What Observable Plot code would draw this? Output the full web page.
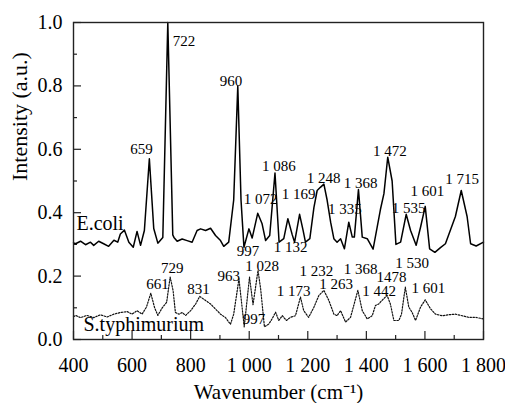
<!DOCTYPE html>
<html><head><meta charset="utf-8">
<script src="https://cdn.jsdelivr.net/npm/d3@7"></script>
<script src="https://cdn.jsdelivr.net/npm/@observablehq/plot@0.6"></script>
<style>
body{margin:0;background:#fff;}
</style>
</head><body><div id="chart"></div>
<script>
// E.coli spectrum (solid)
const ecoliWavenumber = [400,407,424,441,458,469,486,503,520,538,551,560,574,589,604,617,629,642,659,674,688,705,722,739,743,754,771,788,805,822,834,851,868,885,902,913,930,947,961,972,982,999,1010,1029,1044,1056,1070,1088,1102,1118,1132,1147,1155,1172,1184,1192,1207,1221,1232,1243,1255,1266,1278,1289,1300,1312,1325,1340,1352,1359,1373,1386,1403,1423,1448,1460,1473,1488,1501,1517,1536,1551,1570,1585,1601,1616,1634,1653,1670,1704,1724,1744,1756,1775,1800];
const ecoliIntensity = [0.305,0.302,0.310,0.299,0.307,0.297,0.310,0.302,0.294,0.313,0.307,0.333,0.345,0.307,0.291,0.341,0.297,0.344,0.570,0.350,0.304,0.322,1.0,0.33,0.322,0.310,0.317,0.312,0.307,0.344,0.349,0.344,0.351,0.328,0.312,0.294,0.307,0.440,0.800,0.440,0.291,0.349,0.320,0.398,0.365,0.312,0.328,0.525,0.307,0.318,0.381,0.330,0.307,0.395,0.344,0.307,0.318,0.417,0.470,0.480,0.490,0.440,0.370,0.318,0.307,0.318,0.286,0.370,0.323,0.323,0.473,0.323,0.318,0.285,0.410,0.460,0.575,0.500,0.300,0.307,0.395,0.344,0.297,0.354,0.420,0.286,0.275,0.290,0.302,0.388,0.470,0.388,0.302,0.295,0.307];

// S.typhimurium spectrum (dotted)
const stWavenumber = [400,407,424,446,469,492,515,538,560,583,600,617,634,649,664,677,688,703,718,730,740,748,760,771,783,800,817,831,851,868,885,902,919,936,947,965,983,1001,1013,1030,1039,1052,1067,1078,1090,1101,1113,1127,1141,1158,1175,1186,1203,1221,1238,1255,1272,1289,1300,1312,1329,1346,1371,1386,1403,1420,1431,1442,1453,1471,1482,1494,1511,1520,1533,1545,1556,1568,1585,1601,1619,1636,1659,1681,1704,1727,1749,1772,1800];
const stIntensity = [0.072,0.076,0.069,0.076,0.069,0.078,0.071,0.080,0.085,0.088,0.080,0.091,0.080,0.102,0.146,0.100,0.076,0.100,0.117,0.197,0.155,0.085,0.080,0.085,0.076,0.091,0.112,0.136,0.123,0.112,0.096,0.080,0.069,0.048,0.080,0.191,0.040,0.197,0.110,0.218,0.160,0.040,0.049,0.065,0.086,0.060,0.075,0.060,0.070,0.075,0.134,0.091,0.070,0.102,0.139,0.155,0.123,0.080,0.075,0.091,0.055,0.070,0.155,0.091,0.065,0.075,0.107,0.112,0.123,0.139,0.112,0.060,0.060,0.080,0.165,0.102,0.086,0.060,0.102,0.125,0.097,0.080,0.075,0.078,0.080,0.075,0.070,0.070,0.065];

// Peak annotations (text, wavenumber, intensity)
const ecoliPeakText = ["659","722","960","997","1 072","1 086","1 132","1 169","1 248","1 335","1 368","1 472","1 535","1 601","1 715"];
const ecoliPeakX = [632,777,938,996,1039,1101,1141,1169,1254,1327,1380,1480,1544,1608,1727];
const ecoliPeakY = [0.601,0.940,0.814,0.278,0.442,0.546,0.292,0.457,0.509,0.410,0.494,0.593,0.415,0.467,0.505];
const stPeakText = ["661","729","831","963","997","1 028","1 173","1 232","1 263","1 368","1 442","1478","1 530","1 601"];
const stPeakX = [687,737,827,930,1016,1044,1152,1229,1297,1380,1444,1486,1556,1612];
const stPeakY = [0.175,0.226,0.158,0.199,0.063,0.230,0.151,0.215,0.174,0.221,0.153,0.196,0.242,0.162];

// Series names
const seriesNames = ["E.coli","S.typhimurium"];
const seriesLabelX = [410,434];
const seriesLabelY = [0.367,0.046];

// Ticks
const xMajor = [400,600,800,1000,1200,1400,1600,1800];
const xMinor = [500,700,900,1100,1300,1500,1700];
const yMajor = [0,0.2,0.4,0.6,0.8,1.0];
const yMinor = [0.1,0.3,0.5,0.7,0.9];
const xTitle = "Wavenumber (cm\u207B\u00B9)";
const yTitle = "Intensity (a.u.)";

const W = 505, H = 403, mL = 73, mR = 22, mT = 22, mB = 64;
const innerW = W - mL - mR, innerH = H - mT - mB;
const font = "Liberation Serif";
const fmtX = d => d >= 1000 ? String(d).replace(/^(\d)(\d{3})$/, "$1 $2") : String(d);

const ecoli = ecoliWavenumber.map((x, i) => ({x, y: ecoliIntensity[i]}));
const st = stWavenumber.map((x, i) => ({x, y: stIntensity[i]}));

const chart = Plot.plot({
  width: W, height: H,
  marginLeft: mL, marginRight: mR, marginTop: mT, marginBottom: mB,
  x: {domain: [400, 1800]},
  y: {domain: [0, 1.0]},
  marks: [
    Plot.axisX(xMajor, {tickSize: 0, tickPadding: 18, tickFormat: fmtX, fontSize: 20, fontFamily: font, label: null, fill: "#000"}),
    Plot.axisY(yMajor, {tickSize: 0, tickPadding: 11, tickFormat: d3.format(".1f"), fontSize: 20, fontFamily: font, label: null, fill: "#000"}),
    Plot.ruleX(xMajor, {x: d => d, insetTop: innerH - 8, stroke: "#222", strokeWidth: 1.2}),
    Plot.ruleX(xMinor, {x: d => d, insetTop: innerH - 4, stroke: "#222", strokeWidth: 1.2}),
    Plot.ruleY(yMajor, {y: d => d, insetRight: innerW - 8, stroke: "#222", strokeWidth: 1.2}),
    Plot.ruleY(yMinor, {y: d => d, insetRight: innerW - 4, stroke: "#222", strokeWidth: 1.2}),
    Plot.line(st, {x: "x", y: "y", stroke: "#111", strokeWidth: 1.2, strokeDasharray: "1.5 1.5"}),
    Plot.line(ecoli, {x: "x", y: "y", stroke: "#000", strokeWidth: 1.5}),
    Plot.text(ecoliPeakText, {x: (d, i) => ecoliPeakX[i], y: (d, i) => ecoliPeakY[i], text: d => d, fontSize: 15, fontFamily: font, fill: "#000"}),
    Plot.text(stPeakText, {x: (d, i) => stPeakX[i], y: (d, i) => stPeakY[i], text: d => d, fontSize: 15, fontFamily: font, fill: "#000"}),
    Plot.text(seriesNames, {x: (d, i) => seriesLabelX[i], y: (d, i) => seriesLabelY[i], text: d => d, textAnchor: "start", fontSize: 20, fontFamily: font, fill: "#000"}),
    Plot.text([xTitle], {frameAnchor: "bottom", lineAnchor: "top", dy: 45, text: d => d, fontSize: 21, fontFamily: font, fill: "#000"}),
    Plot.text([yTitle], {frameAnchor: "left", rotate: -90, dx: -54, text: d => d, fontSize: 22, fontFamily: font, fill: "#000"}),
    Plot.frame({stroke: "#222", strokeWidth: 1.4})
  ]
});
chart.setAttribute("font-family", font);
d3.select(chart).selectAll("text").style("font-family", font);
document.getElementById("chart").appendChild(chart);
</script>
</body></html>
